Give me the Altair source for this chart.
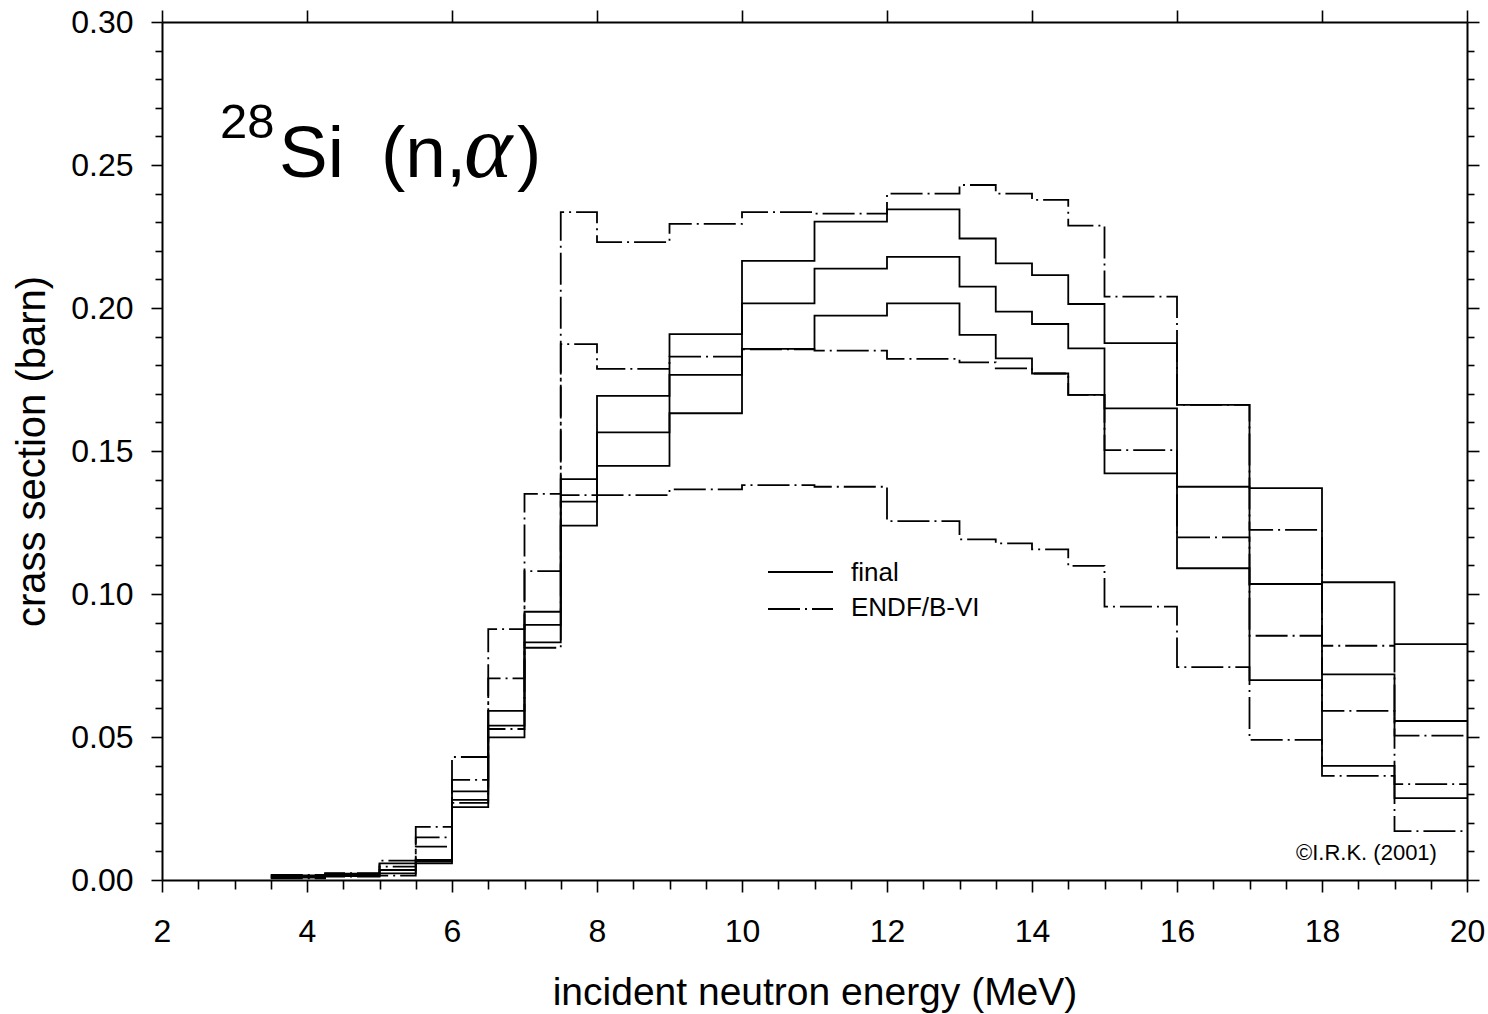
import altair as alt
import pandas as pd

# ---- data (28Si(n,alpha) cross section, barn) ----
edges = [3.5, 4.25, 5.0, 5.5, 6.0, 6.5, 7.0, 7.5, 8.0, 9.0, 10.0, 11.0, 12.0,
         13.0, 13.5, 14.0, 14.5, 15.0, 16.0, 17.0, 18.0, 19.0, 20.0]

final_central = [0.0012, 0.0018, 0.0035, 0.0064, 0.0280, 0.0540, 0.0892, 0.1323,
                 0.1565, 0.1766, 0.2016, 0.2138, 0.2179, 0.2075, 0.1987, 0.1944,
                 0.1859, 0.1649, 0.1375, 0.1035, 0.0719, 0.0556]
final_upper = [0.0016, 0.0022, 0.0058, 0.0070, 0.0310, 0.0591, 0.0938, 0.1402,
               0.1693, 0.1909, 0.2165, 0.2302, 0.2345, 0.2243, 0.2156, 0.2115,
               0.2014, 0.1877, 0.1661, 0.1370, 0.1041, 0.0825]
final_lower = [0.0008, 0.0014, 0.0023, 0.0058, 0.0255, 0.0499, 0.0831, 0.1239,
               0.1448, 0.1632, 0.1857, 0.1973, 0.2016, 0.1906, 0.1824, 0.1771,
               0.1696, 0.1422, 0.1090, 0.0699, 0.0399, 0.0286]

endf_central = [0.0012, 0.0018, 0.0047, 0.0149, 0.0350, 0.0705, 0.1080, 0.1874,
                0.1787, 0.1830, 0.1855, 0.1851, 0.1822, 0.1810, 0.1789, 0.1771,
                0.1696, 0.1503, 0.1198, 0.0854, 0.0591, 0.0335]
endf_upper = [0.0018, 0.0024, 0.0068, 0.0186, 0.0430, 0.0877, 0.1350, 0.2335,
              0.2230, 0.2294, 0.2335, 0.2330, 0.2400, 0.2430, 0.2400, 0.2378,
              0.2288, 0.2040, 0.1661, 0.1224, 0.0819, 0.0505]
endf_lower = [0.0006, 0.0012, 0.0015, 0.0117, 0.0270, 0.0528, 0.0812, 0.1346,
              0.1346, 0.1366, 0.1381, 0.1375, 0.1255, 0.1191, 0.1177, 0.1156,
              0.1098, 0.0956, 0.0744, 0.0490, 0.0364, 0.0171]

x_ticks_minor = [2 + 0.5 * i for i in range(37)]
x_ticks_major = [2 + 2 * i for i in range(10)]
y_ticks = [round(0.01 * i, 2) for i in range(31)]

legend_labels = ["final", "ENDF/B-VI"]
copyright_text = "\u00a9I.R.K. (2001)"

FONT = "Liberation Sans"
DASHDOT = [32, 5, 2, 5]
LW = 1.8
Y_MAJOR = "round(datum.value * 100) % 5 === 0"
X_MAJOR = "datum.value % 2 === 0"


def steps(values, series, band):
    rows = []
    for i, v in enumerate(values):
        rows.append({"E": edges[i], "xs": v, "series": series, "band": band, "idx": 2 * i})
        rows.append({"E": edges[i + 1], "xs": v, "series": series, "band": band, "idx": 2 * i + 1})
    return rows


final_df = pd.DataFrame(steps(final_central, "final", "c")
                        + steps(final_upper, "final", "u")
                        + steps(final_lower, "final", "l"))
endf_df = pd.DataFrame(steps(endf_central, "ENDF/B-VI", "c")
                       + steps(endf_upper, "ENDF/B-VI", "u")
                       + steps(endf_lower, "ENDF/B-VI", "l"))

xscale = alt.Scale(domain=[2, 20], nice=False, zero=False)
yscale = alt.Scale(domain=[0, 0.30], nice=False, zero=False)

common_axis = dict(grid=False, domainColor="black", domainWidth=2,
                   tickColor="black", tickWidth=1.6, labelColor="black",
                   labelFont=FONT, labelFontSize=32, titleFont=FONT,
                   titleFontWeight="normal", titleColor="black")

x_bottom = alt.X(
    "E:Q", scale=xscale,
    axis=alt.Axis(orient="bottom", values=x_ticks_minor,
                  labelExpr=X_MAJOR + " ? format(datum.value, 'd') : ''",
                  tickSize={"condition": {"test": X_MAJOR, "value": 12}, "value": 9},
                  labelPadding=24, title="incident neutron energy (MeV)", titlePadding=26,
                  titleFontSize=39,
                  labelFlush=False, labelOverlap=False, **common_axis))
y_left = alt.Y(
    "xs:Q", scale=yscale,
    axis=alt.Axis(orient="left", values=y_ticks,
                  labelExpr=Y_MAJOR + " ? format(datum.value, '.2f') : ''",
                  tickSize={"condition": {"test": Y_MAJOR, "value": 11}, "value": 7},
                  labelPadding=18, title="crass section (barn)", titlePadding=18,
                  titleFontSize=40,
                  labelFlush=False, labelOverlap=False, **common_axis))

x_top = alt.X("E:Q", scale=xscale,
              axis=alt.Axis(orient="top", values=x_ticks_major, labels=False,
                            tickSize=12, title="", **common_axis))
y_right = alt.Y(
    "xs:Q", scale=yscale,
    axis=alt.Axis(orient="right", values=y_ticks, labels=False,
                  tickSize={"condition": {"test": Y_MAJOR, "value": 12}, "value": 7},
                  title="", **common_axis))

final_lines = alt.Chart(final_df).mark_line(color="black", strokeWidth=LW).encode(
    x=x_bottom, y=y_left, detail="band:N", order=alt.Order("idx:Q"))

endf_lines = alt.Chart(endf_df).mark_line(color="black", strokeWidth=LW,
                                          strokeDash=DASHDOT).encode(
    x=x_top, y=y_right, detail="band:N", order=alt.Order("idx:Q"))

one = pd.DataFrame({"a": [0]})


def label(text, x, y, size, font=FONT, style="normal", baseline="alphabetic"):
    return alt.Chart(one).mark_text(text=text, font=font, fontSize=size, fontStyle=style,
                                    color="black", align="left", baseline=baseline).encode(
        x=alt.value(x), y=alt.value(y))


t_mass = label("28", 58, 116, 49)
t_si = label("Si", 117, 155, 73)
t_open = label("(n,", 219, 155, 73)
t_alpha = label("\u03b1", 302, 155, 92, font="Liberation Serif", style="italic")
t_par = label(")", 355, 155, 73)

leg_solid = alt.Chart(one).mark_rule(color="black", strokeWidth=LW).encode(
    x=alt.value(606), x2=alt.value(671), y=alt.value(550))
leg_dash = alt.Chart(one).mark_rule(color="black", strokeWidth=LW, strokeDash=DASHDOT).encode(
    x=alt.value(606), x2=alt.value(671), y=alt.value(587))
leg_t1 = label(legend_labels[0], 689, 551, 26, baseline="middle")
leg_t2 = label(legend_labels[1], 689, 586, 26, baseline="middle")

t_copy = label(copyright_text, 1134, 838, 22)

chart = alt.layer(
    final_lines, endf_lines, t_mass, t_si, t_open, t_alpha, t_par,
    leg_solid, leg_dash, leg_t1, leg_t2, t_copy
).resolve_axis(
    x="independent", y="independent"
).properties(
    width=1305, height=858,
    padding={"left": 162, "top": 22, "right": 21, "bottom": 134},
    autosize=alt.AutoSizeParams(type="none"),
    background="white",
).configure_view(strokeWidth=0)

chart.save("out.html", embed_options={"renderer": "svg", "actions": False})
